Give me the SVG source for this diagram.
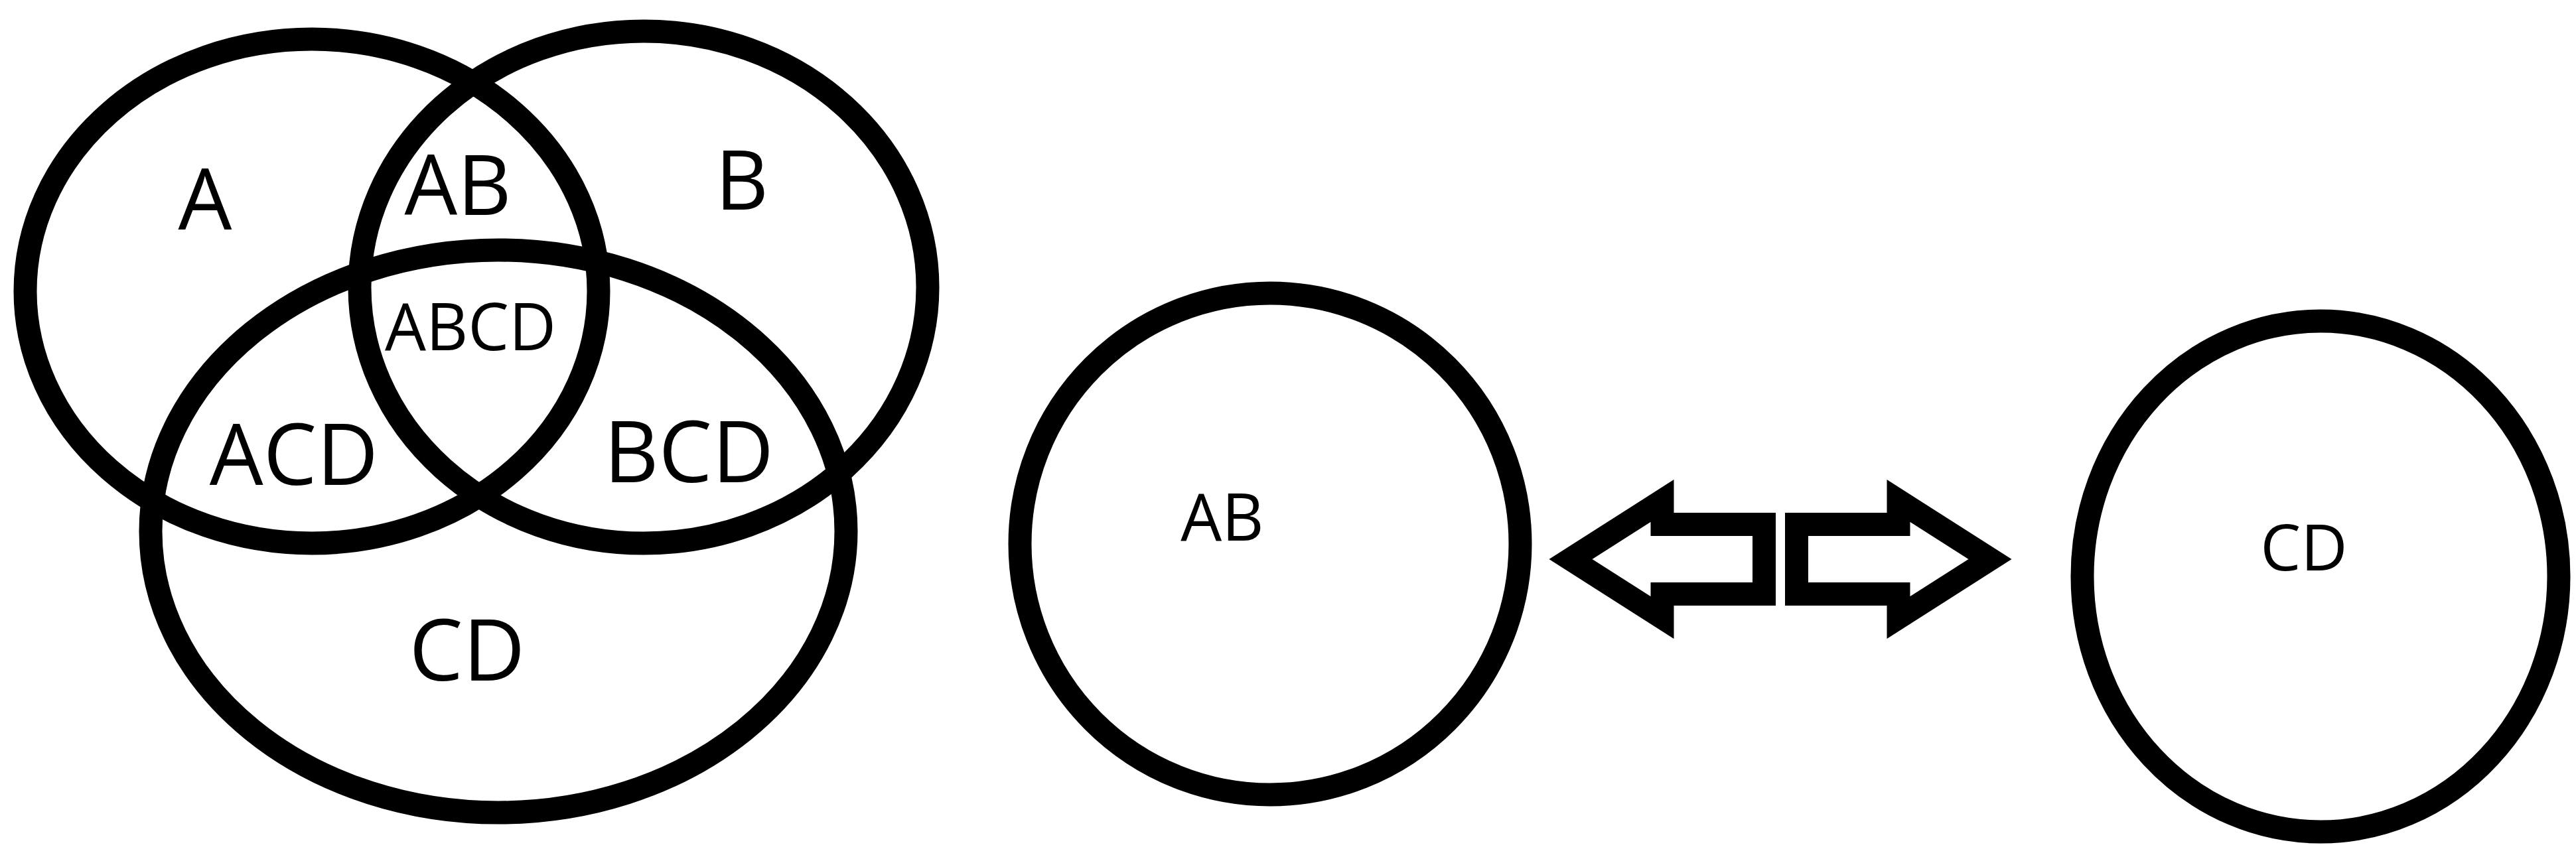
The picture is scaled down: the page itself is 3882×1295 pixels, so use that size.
<svg xmlns="http://www.w3.org/2000/svg" width="3882" height="1295" viewBox="0 0 3882 1295">
<style>
.ring{fill:none;stroke:#000;stroke-width:35}
.lbl{font-family:"Open Sans","Noto Sans",sans-serif;fill:#000;text-anchor:middle}
.arr{fill:none;stroke:#000;stroke-width:35;stroke-linejoin:miter;stroke-miterlimit:10}
</style>
<rect width="3882" height="1295" fill="#fff"/>
<g id="set-A"><ellipse class="ring" cx="470" cy="439" rx="432" ry="380"/></g>
<g id="set-B"><ellipse class="ring" cx="970" cy="433" rx="428" ry="386"/></g>
<g id="set-CD"><ellipse class="ring" cx="751" cy="801" rx="524" ry="424"/></g>
<g id="venn-labels">
<text class="lbl" x="309" y="346" font-size="128">A</text>
<text class="lbl" x="690" y="324" font-size="126">AB</text>
<text class="lbl" x="1118" y="316" font-size="124">B</text>
<text class="lbl" x="709" y="528" font-size="98">ABCD</text>
<text class="lbl" x="443" y="731" font-size="128">ACD</text>
<text class="lbl" x="1038" y="727" font-size="128">BCD</text>
<text class="lbl" x="704" y="1026" font-size="129">CD</text>
</g>
<g id="node-AB"><ellipse class="ring" cx="1914" cy="820" rx="377" ry="378"/><text class="lbl" x="1842" y="815" font-size="98">AB</text></g>
<g id="node-CD"><ellipse class="ring" cx="3497" cy="869" rx="359" ry="385"/><text class="lbl" x="3472" y="860" font-size="97">CD</text></g>
<g id="connectors">
<polygon class="arr" points="2367,843 2505,755 2505,790.5 2658.5,790.5 2658.5,895.5 2505,895.5 2505,931"/>
<polygon class="arr" points="2999,843 2861,755 2861,790.5 2707.5,790.5 2707.5,895.5 2861,895.5 2861,931"/>
</g>
</svg>
